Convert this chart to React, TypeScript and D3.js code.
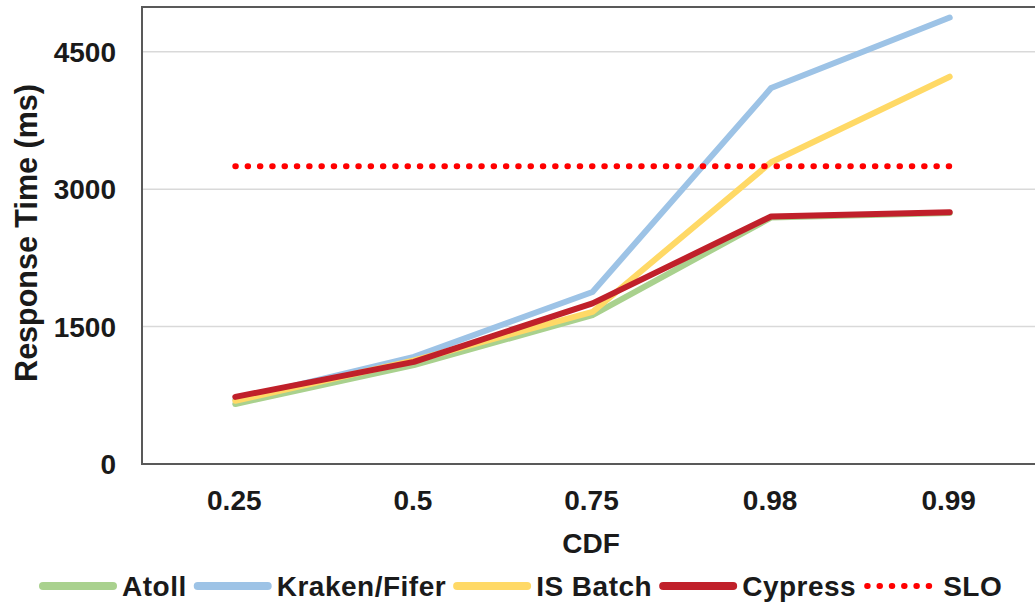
import React, { useEffect, useRef } from "react";
import * as d3 from "d3";

const categories = ["0.25", "0.5", "0.75", "0.98", "0.99"];
const atoll = [655, 1080, 1625, 2690, 2740];
const kraken = [700, 1170, 1878, 4104, 4874];
const isBatch = [690, 1130, 1660, 3294, 4228];
const cypress = [733, 1115, 1754, 2702, 2749];
const slo = [3250, 3250, 3250, 3250, 3250];
const yTicks = [0, 1500, 3000, 4500];

const series = [
  { name: "Atoll", values: atoll, color: "#A9D18E", dotted: false },
  { name: "Kraken/Fifer", values: kraken, color: "#9DC3E6", dotted: false },
  { name: "IS Batch", values: isBatch, color: "#FFD966", dotted: false },
  { name: "Cypress", values: cypress, color: "#C0202A", dotted: false },
  { name: "SLO", values: slo, color: "#FF0000", dotted: true },
];

const W = 1035;
const H = 603;
const plot = { left: 142, top: 6, right: 1035, bottom: 464 };
const FONT = "'Liberation Sans', Arial, sans-serif";
const textColor = "#1a1a1a";

export default function App() {
  const ref = useRef<SVGSVGElement>(null);

  useEffect(() => {
    const svg = d3.select(ref.current);
    svg.selectAll("*").remove();

    // category centres sit a little right of the frame edge
    const x = d3.scaleBand<string>().domain(categories).range([146, 1039]).padding(0);
    const y = d3.scaleLinear().domain([0, 5000]).range([plot.bottom, plot.top]);
    const cx = (c: string) => (x(c) as number) + x.bandwidth() / 2;

    // gridlines
    svg
      .append("g")
      .selectAll("line")
      .data(yTicks.filter((t) => t > 0))
      .join("line")
      .attr("x1", plot.left)
      .attr("x2", W)
      .attr("y1", (d) => y(d))
      .attr("y2", (d) => y(d))
      .attr("stroke", "#D9D9D9")
      .attr("stroke-width", 1.5);

    // frame: left, top, bottom
    svg
      .append("path")
      .attr("d", `M${W},${plot.top + 1}H${plot.left}V${plot.bottom}H${W}`)
      .attr("fill", "none")
      .attr("stroke", "#595959")
      .attr("stroke-width", 2);

    // y tick labels
    svg
      .append("g")
      .selectAll("text")
      .data(yTicks)
      .join("text")
      .attr("x", 116)
      .attr("y", (d) => y(d))
      .attr("dy", "0.36em")
      .attr("text-anchor", "end")
      .attr("font-family", FONT)
      .attr("font-weight", "bold")
      .attr("font-size", 28)
      .attr("fill", textColor)
      .text((d) => String(d));

    // x tick labels
    svg
      .append("g")
      .selectAll("text")
      .data(categories)
      .join("text")
      .attr("x", (d) => cx(d) - 1)
      .attr("y", 510)
      .attr("text-anchor", "middle")
      .attr("font-family", FONT)
      .attr("font-weight", "bold")
      .attr("font-size", 28)
      .attr("fill", textColor)
      .text((d) => d);

    // axis titles
    svg
      .append("text")
      .attr("x", 591)
      .attr("y", 553)
      .attr("text-anchor", "middle")
      .attr("font-family", FONT)
      .attr("font-weight", "bold")
      .attr("font-size", 28)
      .attr("fill", textColor)
      .text("CDF");

    svg
      .append("text")
      .attr("transform", "translate(37,233) rotate(-90)")
      .attr("text-anchor", "middle")
      .attr("font-family", FONT)
      .attr("font-weight", "bold")
      .attr("font-size", 30.5)
      .attr("fill", textColor)
      .text("Response Time (ms)");

    // lines
    const line = d3
      .line<number>()
      .x((_, i) => cx(categories[i]))
      .y((d) => y(d));

    const lines = svg.append("g");
    series.forEach((s) => {
      lines
        .append("path")
        .attr("d", line(s.values))
        .attr("fill", "none")
        .attr("stroke", s.color)
        .attr("stroke-width", 6)
        .attr("stroke-linecap", "round")
        .attr("stroke-linejoin", "round")
        .attr("stroke-dasharray", s.dotted ? "0.5 11.8" : null);
    });

    // legend
    const legend = svg.append("g");
    const ly = 586;
    let lx = 40;
    series.forEach((s) => {
      const sw = s.dotted ? 68 : 76;
      legend
        .append("line")
        .attr("x1", lx + 3)
        .attr("x2", lx + sw - 3)
        .attr("y1", ly)
        .attr("y2", ly)
        .attr("stroke", s.color)
        .attr("stroke-width", s.dotted ? 6 : 8)
        .attr("stroke-linecap", "round")
        .attr("stroke-dasharray", s.dotted ? "0.5 11.8" : null);
      const t = legend
        .append("text")
        .attr("x", lx + sw + (s.dotted ? 11 : 6))
        .attr("y", ly + 10)
        .attr("font-family", FONT)
        .attr("font-weight", "bold")
        .attr("font-size", 28)
        .attr("letter-spacing", 0.5)
        .attr("fill", textColor)
        .text(s.name);
      const tw = (t.node() as SVGTextElement).getComputedTextLength();
      lx = lx + sw + (s.dotted ? 11 : 6) + tw + 8;
    });
  }, []);

  return (
    <svg
      ref={ref}
      width={W}
      height={H}
      style={{ position: "absolute", left: 0, top: 0, background: "#fff" }}
    />
  );
}
